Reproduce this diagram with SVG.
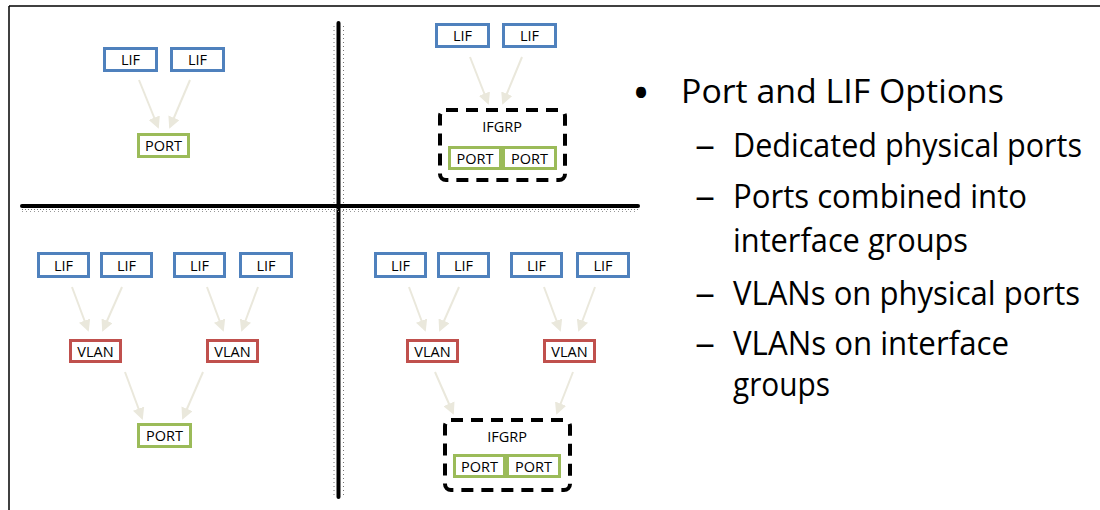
<svg xmlns="http://www.w3.org/2000/svg" width="1100" height="510" viewBox="0 0 1100 510">
<style>
.lif{fill:#fff;stroke:#4F81BD;stroke-width:3}
.port{fill:#fff;stroke:#9BBB59;stroke-width:3}
.vlan{fill:#fff;stroke:#C0504D;stroke-width:3}
.grp{fill:none;stroke:#000;stroke-width:4;stroke-dasharray:12 8}
.bt{font-family:"Open Sans","Noto Sans",sans-serif;font-size:14.5px;fill:#000;text-anchor:middle}
.big{font-family:"Open Sans","Noto Sans",sans-serif;font-size:33px;fill:#000}
.arr{stroke:#EAE8DC;stroke-width:2;fill:none;marker-end:url(#ah)}
</style>
<defs>
<marker id="ah" markerUnits="userSpaceOnUse" markerWidth="12" markerHeight="12" viewBox="0 0 12 12" refX="10" refY="6" orient="auto">
<path d="M0,0 L12,6 L0,12 Z" fill="#EAE8DC"/>
</marker>
</defs>
<rect x="0" y="0" width="1100" height="510" fill="#fff"/>
<g id="frame">
<line x1="9" y1="6" x2="1100" y2="6" stroke="#000" stroke-width="1.5"/>
<line x1="9" y1="6" x2="9" y2="510" stroke="#000" stroke-width="1.5"/>
</g>
<g id="dividers">
<line x1="334" y1="26" x2="334" y2="497" stroke="#777" stroke-width="1" stroke-dasharray="1 3"/>
<line x1="343.5" y1="26" x2="343.5" y2="497" stroke="#777" stroke-width="1" stroke-dasharray="1 3"/>
<line x1="338.5" y1="23" x2="338.5" y2="497" stroke="#000" stroke-width="4" stroke-linecap="round"/>
<line x1="22" y1="209.5" x2="638" y2="209.5" stroke="#777" stroke-width="1" stroke-dasharray="1 2"/>
<line x1="22" y1="211.5" x2="638" y2="211.5" stroke="#999" stroke-width="1" stroke-dasharray="1 3"/>
<line x1="22" y1="206" x2="638" y2="206" stroke="#000" stroke-width="4" stroke-linecap="round"/>
</g>
<g id="connectors">
<line class="arr" x1="139" y1="80" x2="158" y2="127"/>
<line class="arr" x1="190" y1="80" x2="170" y2="127"/>
<line class="arr" x1="470" y1="57" x2="488" y2="103"/>
<line class="arr" x1="522" y1="57" x2="503" y2="103"/>
<line class="arr" x1="72" y1="287" x2="88" y2="330"/>
<line class="arr" x1="122" y1="287" x2="103" y2="330"/>
<line class="arr" x1="207" y1="287" x2="223" y2="330"/>
<line class="arr" x1="258" y1="287" x2="242" y2="330"/>
<line class="arr" x1="125" y1="372" x2="142" y2="418"/>
<line class="arr" x1="203" y1="372" x2="183" y2="418"/>
<line class="arr" x1="409" y1="287" x2="425" y2="330"/>
<line class="arr" x1="459" y1="287" x2="440" y2="330"/>
<line class="arr" x1="544" y1="287" x2="560" y2="330"/>
<line class="arr" x1="595" y1="287" x2="579" y2="330"/>
<line class="arr" x1="435" y1="372" x2="453" y2="413"/>
<line class="arr" x1="573" y1="372" x2="557" y2="413"/>
</g>
<g id="tl-lif1"><rect class="lif" x="104.5" y="48.5" width="52" height="22"/><text class="bt" x="130.5" y="65">LIF</text></g>
<g id="tl-lif2"><rect class="lif" x="171.5" y="48.5" width="52" height="22"/><text class="bt" x="197.5" y="65">LIF</text></g>
<g id="tl-port"><rect class="port" x="138.5" y="134.5" width="50" height="22"/><text class="bt" x="163.5" y="151">PORT</text></g>
<g id="tr-lif1"><rect class="lif" x="436.5" y="24.5" width="52" height="22"/><text class="bt" x="462.5" y="41">LIF</text></g>
<g id="tr-lif2"><rect class="lif" x="503.5" y="24.5" width="52" height="22"/><text class="bt" x="529.5" y="41">LIF</text></g>
<g id="tr-ifgrp">
<rect class="grp" x="440" y="110" width="125" height="70" rx="6"/>
<text class="bt" x="502" y="132">IFGRP</text>
<rect class="port" x="449.5" y="147.5" width="51" height="21"/><text class="bt" x="475" y="163.5">PORT</text>
<rect class="port" x="503.5" y="147.5" width="52" height="21"/><text class="bt" x="529.5" y="163.5">PORT</text>
</g>
<g id="bl-lif1"><rect class="lif" x="38.5" y="253.5" width="50" height="23"/><text class="bt" x="63.5" y="270.5">LIF</text></g>
<g id="bl-lif2"><rect class="lif" x="101.5" y="253.5" width="50" height="23"/><text class="bt" x="126.5" y="270.5">LIF</text></g>
<g id="bl-lif3"><rect class="lif" x="174.5" y="253.5" width="50" height="23"/><text class="bt" x="199.5" y="270.5">LIF</text></g>
<g id="bl-lif4"><rect class="lif" x="240.5" y="253.5" width="51" height="23"/><text class="bt" x="266" y="270.5">LIF</text></g>
<g id="bl-vlan1"><rect class="vlan" x="70.5" y="340.5" width="50" height="21"/><text class="bt" x="95.5" y="356.5">VLAN</text></g>
<g id="bl-vlan2"><rect class="vlan" x="207.5" y="340.5" width="50" height="21"/><text class="bt" x="232.5" y="356.5">VLAN</text></g>
<g id="bl-port"><rect class="port" x="138.5" y="424.5" width="52" height="22"/><text class="bt" x="164.5" y="441">PORT</text></g>
<g id="br-lif1"><rect class="lif" x="375.5" y="253.5" width="50" height="23"/><text class="bt" x="400.5" y="270.5">LIF</text></g>
<g id="br-lif2"><rect class="lif" x="438.5" y="253.5" width="50" height="23"/><text class="bt" x="463.5" y="270.5">LIF</text></g>
<g id="br-lif3"><rect class="lif" x="511.5" y="253.5" width="50" height="23"/><text class="bt" x="536.5" y="270.5">LIF</text></g>
<g id="br-lif4"><rect class="lif" x="577.5" y="253.5" width="51" height="23"/><text class="bt" x="603" y="270.5">LIF</text></g>
<g id="br-vlan1"><rect class="vlan" x="407.5" y="340.5" width="50" height="21"/><text class="bt" x="432.5" y="356.5">VLAN</text></g>
<g id="br-vlan2"><rect class="vlan" x="544.5" y="340.5" width="50" height="21"/><text class="bt" x="569.5" y="356.5">VLAN</text></g>
<g id="br-ifgrp">
<rect class="grp" x="445" y="420" width="125" height="70" rx="6"/>
<text class="bt" x="507" y="442">IFGRP</text>
<rect class="port" x="454.5" y="455.5" width="50" height="21"/><text class="bt" x="479.5" y="471.5">PORT</text>
<rect class="port" x="507.5" y="455.5" width="52" height="21"/><text class="bt" x="533.5" y="471.5">PORT</text>
</g>
<g id="bullets">
<text class="big" x="632" y="110" style="font-size:48px">•</text>
<text class="big" x="681" y="103" textLength="323" lengthAdjust="spacingAndGlyphs">Port and LIF Options</text>
<text class="big" x="695" y="157" textLength="20" lengthAdjust="spacingAndGlyphs">–</text>
<text class="big" transform="translate(733,157) scale(1,1.12)" x="0" y="0" style="font-size:29.5px" textLength="349" lengthAdjust="spacingAndGlyphs">Dedicated physical ports</text>
<text class="big" x="695" y="208" textLength="20" lengthAdjust="spacingAndGlyphs">–</text>
<text class="big" x="733" y="208" textLength="294" lengthAdjust="spacingAndGlyphs">Ports combined into</text>
<text class="big" x="733" y="252" textLength="235" lengthAdjust="spacingAndGlyphs">interface groups</text>
<text class="big" x="695" y="305" textLength="20" lengthAdjust="spacingAndGlyphs">–</text>
<text class="big" x="733" y="305" textLength="347" lengthAdjust="spacingAndGlyphs">VLANs on physical ports</text>
<text class="big" x="695" y="355" textLength="20" lengthAdjust="spacingAndGlyphs">–</text>
<text class="big" x="733" y="355" textLength="276" lengthAdjust="spacingAndGlyphs">VLANs on interface</text>
<text class="big" x="733" y="396" textLength="97" lengthAdjust="spacingAndGlyphs">groups</text>
</g>
</svg>
